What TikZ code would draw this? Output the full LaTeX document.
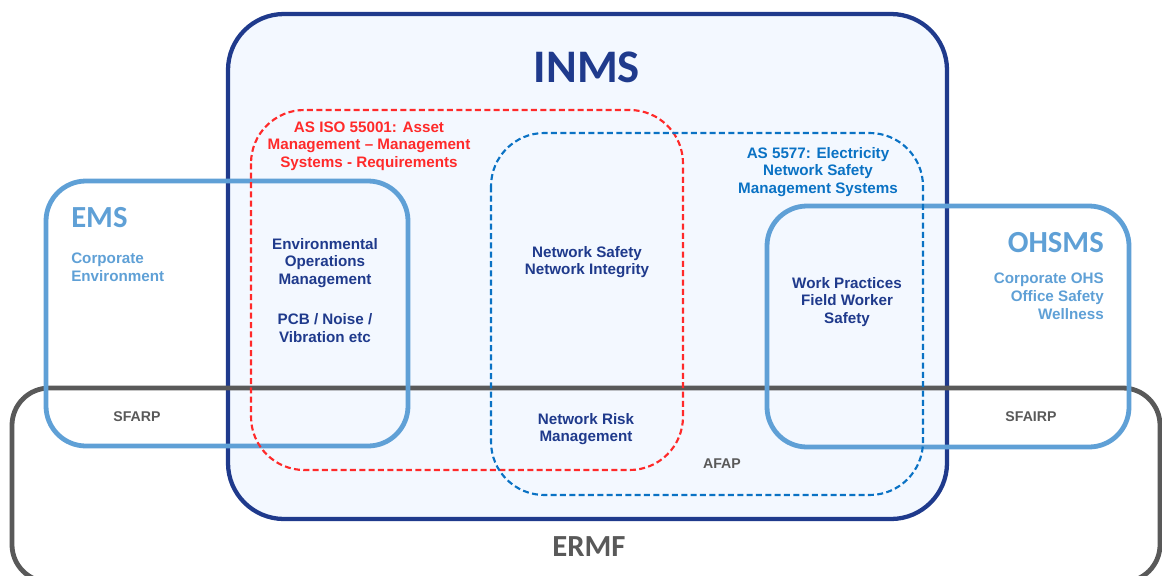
\documentclass[tikz,border=0pt]{standalone}
\usepackage{fontspec}
\setmainfont{Liberation Sans}
\newfontfamily\headfont{Carlito}
\definecolor{navy}{HTML}{1F3A8C}
\definecolor{lblue}{HTML}{5FA0D6}
\definecolor{dblue}{HTML}{0A72C4}
\definecolor{redd}{HTML}{FF2A2A}
\definecolor{grayd}{HTML}{595959}
\definecolor{inmsfill}{HTML}{F3F8FF}
\begin{document}
\begin{tikzpicture}[x=0.75pt,y=-0.75pt,
  body/.style={font=\bfseries\fontsize{11.4}{13.2}\selectfont, align=center, text=navy, inner sep=0pt},
  smallgray/.style={font=\bfseries\fontsize{10.6}{12}\selectfont, text=grayd, inner sep=0pt},
  head/.style={font=\headfont\bfseries\fontsize{23}{26}\selectfont, inner sep=0pt},
  solidbox/.style={line width=3.6pt, rounded corners=30pt},
  dashbox/.style={line width=1.6pt, dash pattern=on 4.5pt off 2.5pt, rounded corners=40pt}]
\useasboundingbox (0,0) rectangle (1162,575);
% INMS
\draw[navy, line width=3.2pt, fill=inmsfill, rounded corners=42pt] (228,14) rectangle (947,519);
% ERMF
\draw[grayd, solidbox, rounded corners=28pt] (12,388) rectangle (1160,582);
% EMS and OHSMS
\draw[lblue, solidbox] (46,181) rectangle (408,446);
\draw[lblue, solidbox] (767,206) rectangle (1129,447);
% dashed standards
\draw[redd, dashbox] (251,110) rectangle (683,470);
\draw[dblue, dashbox] (491,133) rectangle (923,495);
% texts
\node[font=\headfont\bfseries\fontsize{35}{40}\selectfont, text=navy, inner sep=0pt] (inms) at (587,67) {INMS};
\node[font=\headfont\bfseries\fontsize{23}{26}\selectfont, text=grayd, inner sep=0pt] (ermf) at (589,547) {ERMF};
\node[head, text=lblue, anchor=west] (ems) at (71,218) {EMS};
\node[head, text=lblue, anchor=east] (ohsms) at (1104,243) {OHSMS};
\node[body, text=lblue, align=left, anchor=north west] (emsd) at (71,253) {Corporate\\Environment};
\node[body, text=lblue, align=right, anchor=north east] (ohsmsd) at (1104,273) {Corporate OHS\\Office Safety\\Wellness};
\node[body, text=redd] (iso) at (369,146) {AS ISO 55001: Asset\\Management -- Management\\Systems - Requirements};
\node[body, text=dblue] (as) at (818,172) {AS 5577: Electricity\\Network Safety\\Management Systems};
\node[body] (env) at (325,263) {Environmental\\Operations\\Management};
\node[body] (pcb) at (325,328) {PCB / Noise /\\Vibration etc};
\node[body] (ns) at (587,262) {Network Safety\\Network Integrity};
\node[body] (wp) at (847,302) {Work Practices\\Field Worker\\Safety};
\node[body] (nrm) at (586,429) {Network Risk\\Management};
\node[smallgray] (sfarp) at (137,417) {SFARP};
\node[smallgray] (sfairp) at (1031,417) {SFAIRP};
\node[smallgray] (afap) at (722,464) {AFAP};
\end{tikzpicture}
\end{document}
